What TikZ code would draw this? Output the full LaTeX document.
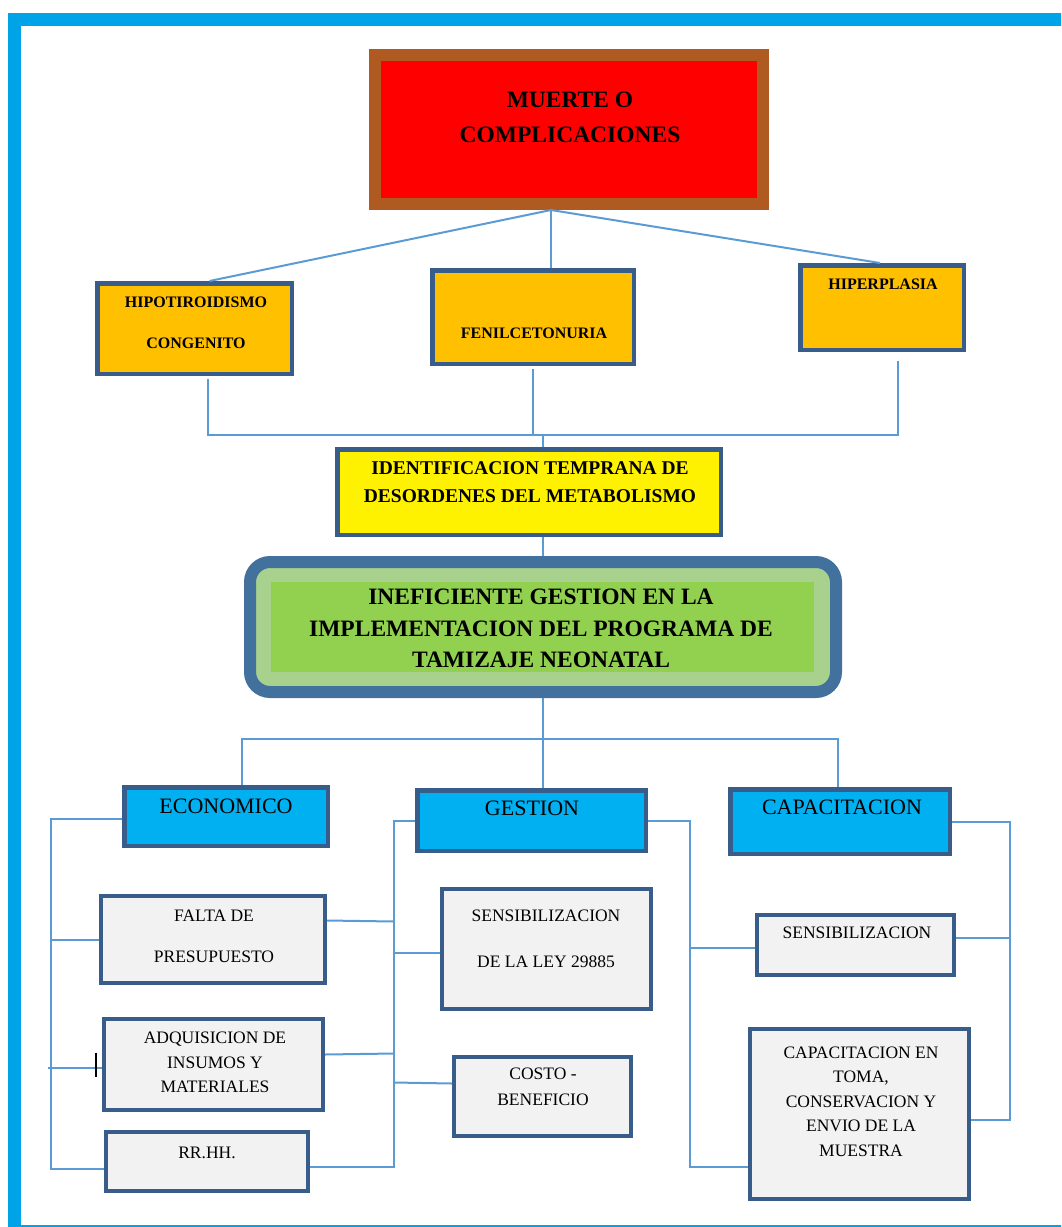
\documentclass[tikz,border=0pt]{standalone}
\usepackage{fontspec}
\setmainfont{Liberation Serif}
\usepackage{tikz}
\usetikzlibrary{positioning}
\definecolor{frameblue}{RGB}{0,162,232}
\definecolor{brownc}{RGB}{174,90,33}
\definecolor{boxblue}{RGB}{56,93,138}
\definecolor{orangefill}{RGB}{255,192,0}
\definecolor{headblue}{RGB}{0,176,240}
\definecolor{greyfill}{RGB}{242,242,242}
\definecolor{connblue}{RGB}{91,155,213}
\definecolor{darkband}{RGB}{65,113,156}
\definecolor{lightgreen}{RGB}{169,209,142}
\definecolor{midgreen}{RGB}{146,208,80}

\begin{document}
\begin{tikzpicture}[x=1pt,y=-1pt,
  conn/.style={draw=connblue,line width=2pt},
  orangebox/.style={draw=boxblue,fill=orangefill,line width=4.5pt,inner sep=0pt},
  headbox/.style={draw=boxblue,fill=headblue,line width=4.5pt,inner sep=0pt},
  greybox/.style={draw=boxblue,fill=greyfill,line width=4pt,inner sep=0pt},
  smalltxt/.style={inner sep=0pt,align=center,font=\fontsize{17.5}{24.5}\selectfont},
  orangetxt/.style={inner sep=0pt,align=center,font=\bfseries\fontsize{16}{41}\selectfont},
  headtxt/.style={inner sep=0pt,align=center,font=\fontsize{22}{26}\selectfont}]
  \useasboundingbox (0,0) rectangle (1061,1227);
  \clip (0,0) rectangle (1061,1227);
  \draw[frameblue,line width=13pt] (14.5,19.5) rectangle (1080,1231);

  \node[draw=brownc,fill=red,line width=12pt,minimum width=388pt,minimum height=149pt,inner sep=0pt] (muerte) at (569,129.5) {};
  \node[inner sep=0pt,align=center,font=\bfseries\fontsize{23.5}{35}\selectfont] (muerte-t) at (570,117.5) {MUERTE O\\COMPLICACIONES};
  \coordinate (mjoin) at (551,210);

  \node[orangebox,minimum width=194.5pt,minimum height=90.5pt] (hipo) at (194.5,328.5) {};
  \node[orangetxt] (hipo-t) at (196,322.5) {HIPOTIROIDISMO\\CONGENITO};
  \node[orangebox,minimum width=201.5pt,minimum height=93.5pt] (feni) at (533,317) {};
  \node[orangetxt] (feni-t) at (534,333) {FENILCETONURIA};
  \node[orangebox,minimum width=163.5pt,minimum height=84.5pt] (hiper) at (882,307.5) {};
  \node[orangetxt] (hiper-t) at (883,284) {HIPERPLASIA};

  \draw[conn] (mjoin) -- ([xshift=15pt]hipo.north);
  \draw[conn] (mjoin) -- (mjoin |- feni.north);
  \draw[conn] (mjoin) -- ([xshift=-2pt]hiper.north);

  \node[draw=boxblue,fill=yellow,line width=4.5pt,minimum width=383.5pt,minimum height=85.5pt,inner sep=0pt] (ident) at (529,492) {};
  \node[inner sep=0pt,align=center,font=\bfseries\fontsize{19.5}{28}\selectfont] (ident-t) at (530,482) {IDENTIFICACION TEMPRANA DE\\DESORDENES DEL METABOLISMO};

  \coordinate (bus) at (543,435);
  \draw[conn] ([xshift=13pt,yshift=-3pt]hipo.south) |- (bus) -| ([xshift=16pt,yshift=-9pt]hiper.south);
  \draw[conn] ([yshift=-3pt]feni.south) -- (feni.south |- bus);
  \draw[conn] (bus) -- (bus |- ident.north);

  \node[draw=darkband,fill=lightgreen,line width=12pt,rounded corners=20pt,minimum width=586pt,minimum height=130pt,inner sep=0pt] (prob) at (543,627) {};
  \node[fill=midgreen,minimum width=543pt,minimum height=90pt,inner sep=0pt] (prob-in) at (542.5,627) {};
  \node[inner sep=0pt,align=center,font=\bfseries\fontsize{23.5}{31.5}\selectfont] (prob-t) at (541,628.5) {INEFICIENTE GESTION EN LA\\IMPLEMENTACION DEL PROGRAMA DE\\TAMIZAJE NEONATAL};
  \draw[conn] (ident.south -| bus) -- (bus |- prob.north);

  \node[headbox,minimum width=203.5pt,minimum height=58.5pt] (econ) at (226,816.5) {};
  \node[headtxt] (econ-t) at (226,806) {ECONOMICO};
  \node[headbox,minimum width=228.5pt,minimum height=60.5pt] (gest) at (531.5,820.5) {};
  \node[headtxt] (gest-t) at (532,808) {GESTION};
  \node[headbox,minimum width=219.5pt,minimum height=64.5pt] (capa) at (840,821.5) {};
  \node[headtxt] (capa-t) at (842,807) {CAPACITACION};

  \coordinate (bus2) at (543,739);
  \draw[conn] (prob.south) -- (prob.south |- gest.north);
  \draw[conn] ([xshift=16pt]econ.north) |- (bus2) -| ([xshift=-2pt]capa.north);

  \node[greybox,minimum width=224pt,minimum height=87pt] (falta) at (213,939.5) {};
  \node[smalltxt,font=\fontsize{17.5}{41}\selectfont] (falta-t) at (214,936.5) {FALTA DE\\PRESUPUESTO};
  \node[greybox,minimum width=219pt,minimum height=91pt] (adq) at (213.5,1064.5) {};
  \node[smalltxt] (adq-t) at (215,1062.5) {ADQUISICION DE\\INSUMOS Y\\MATERIALES};
  \node[greybox,minimum width=202pt,minimum height=59pt] (rrhh) at (207,1161.5) {};
  \node[smalltxt] (rrhh-t) at (207,1153) {RR.HH.};

  \node[greybox,minimum width=209pt,minimum height=120pt] (sensley) at (546.5,949) {};
  \node[smalltxt,font=\fontsize{17.5}{46}\selectfont] (sensley-t) at (546,939) {SENSIBILIZACION\\DE LA LEY 29885};
  \node[greybox,minimum width=177pt,minimum height=79pt] (costo) at (542.5,1096.5) {};
  \node[smalltxt,font=\fontsize{17.5}{26}\selectfont] (costo-t) at (543,1087) {COSTO -\\BENEFICIO};

  \node[greybox,minimum width=197pt,minimum height=60pt] (sens) at (855.5,945) {};
  \node[smalltxt] (sens-t) at (857,933) {SENSIBILIZACION};
  \node[greybox,minimum width=219pt,minimum height=170pt] (capt) at (859.5,1114) {};
  \node[smalltxt] (capt-t) at (861,1101.6) {CAPACITACION EN\\TOMA,\\CONSERVACION Y\\ENVIO DE LA\\MUESTRA};

  \coordinate (lx) at (51,819);
  \draw[conn] ([yshift=-2.5pt]econ.west) -- (lx) |- ([yshift=-7pt]rrhh.west);
  \draw[conn] (falta.west) -- (falta.west -| lx);
  \draw[conn] ([yshift=-3pt]adq.west) -- ([yshift=-3pt,xshift=-3pt]adq.west -| lx);
  \draw[black,line width=1.5pt] ([xshift=-6pt,yshift=12pt]adq.west) -- ([xshift=-6pt,yshift=-12pt]adq.west);

  \coordinate (mx) at (394,822);
  \draw[conn] (gest.west) -- (gest.west -| mx) |- ([yshift=-5pt]rrhh.east);
  \draw[conn] ([yshift=19pt]falta.east) -- ([yshift=18pt]falta.east -| mx);
  \draw[conn] ([yshift=-4pt]sensley.west) -- ([yshift=-4pt]sensley.west -| mx);
  \draw[conn] ([yshift=10pt]adq.east) -- ([yshift=11pt]adq.east -| mx);
  \draw[conn] ([yshift=13pt]costo.west) -- ([yshift=14pt]costo.west -| mx);

  \coordinate (rx) at (690,822);
  \draw[conn] (gest.east) -- (gest.east -| rx) |- ([yshift=-53pt]capt.west);
  \draw[conn] ([yshift=-3pt]sens.west) -- ([yshift=-3pt]sens.west -| rx);

  \coordinate (fx) at (1010,823);
  \draw[conn] (capa.east) -- (capa.east -| fx) |- ([yshift=-6pt]capt.east);
  \draw[conn] ([yshift=7pt]sens.east) -- ([yshift=7pt]sens.east -| fx);
\end{tikzpicture}
\end{document}
